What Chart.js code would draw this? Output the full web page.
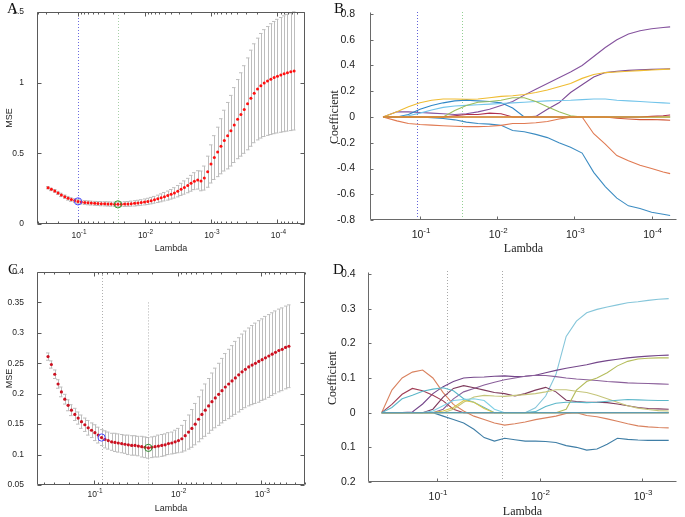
<!DOCTYPE html>
<html lang="en">
<head>
<meta charset="UTF-8">
<title>Lasso cross-validation and coefficient paths</title>
<script src="https://cdn.jsdelivr.net/npm/chart.js@4.4.1/dist/chart.umd.min.js"></script>
<style>
  body { margin: 0; background: #fff; }
  #fig { position: relative; width: 685px; height: 517px; overflow: hidden; background: #fff; }
  #fig canvas { position: absolute; }
  .tag { position: absolute; font-family: "Liberation Serif", "Times New Roman", serif; font-size: 15px; line-height: 1; color: #111; }
</style>
</head>
<body>
<div id="fig">
  <canvas id="chartA" width="340" height="260" style="left:0;top:0"></canvas>
  <canvas id="chartB" width="365" height="260" style="left:320px;top:0"></canvas>
  <canvas id="chartC" width="340" height="257" style="left:0;top:260px"></canvas>
  <canvas id="chartD" width="365" height="257" style="left:320px;top:260px"></canvas>
  <div class="tag" style="left:7px;top:1px">A</div>
  <div class="tag" style="left:334px;top:1px">B</div>
  <div class="tag" style="left:8px;top:262px">C</div>
  <div class="tag" style="left:333px;top:262px">D</div>
</div>

<script>
// ---------- panel A : CV mean squared error, first model ----------
const logLambdaA = [
  -0.55, -0.60, -0.65, -0.70, -0.75, -0.80, -0.85, -0.90, -0.95, -1.00,
  -1.05, -1.10, -1.15, -1.20, -1.25, -1.30, -1.35, -1.40, -1.45, -1.50,
  -1.55, -1.60, -1.65, -1.70, -1.75, -1.80, -1.85, -1.90, -1.95, -2.00,
  -2.05, -2.10, -2.15, -2.20, -2.25, -2.30, -2.35, -2.40, -2.45, -2.50,
  -2.55, -2.60, -2.65, -2.70, -2.75, -2.80, -2.85, -2.90, -2.95, -3.00,
  -3.05, -3.10, -3.15, -3.20, -3.25, -3.30, -3.35, -3.40, -3.45, -3.50,
  -3.55, -3.60, -3.65, -3.70, -3.75, -3.80, -3.85, -3.90, -3.95, -4.00,
  -4.05, -4.10, -4.15, -4.20, -4.25
];
const mseA = [
  0.257, 0.245, 0.234, 0.220, 0.206, 0.193, 0.182, 0.173, 0.166, 0.160,
  0.155, 0.152, 0.150, 0.148, 0.146, 0.145, 0.144, 0.143, 0.142, 0.141,
  0.140, 0.139, 0.140, 0.141, 0.142, 0.144, 0.146, 0.149, 0.152, 0.156,
  0.160, 0.165, 0.171, 0.178, 0.185, 0.193, 0.201, 0.210, 0.220, 0.232,
  0.245, 0.258, 0.272, 0.288, 0.303, 0.312, 0.305, 0.325, 0.370, 0.425,
  0.470, 0.510, 0.550, 0.590, 0.625, 0.660, 0.700, 0.742, 0.775, 0.810,
  0.850, 0.890, 0.925, 0.955, 0.978, 0.997, 1.012, 1.025, 1.036, 1.046,
  1.055, 1.063, 1.070, 1.077, 1.083
];
const seA = [
  0.008, 0.009, 0.010, 0.011, 0.012, 0.012, 0.013, 0.013, 0.013, 0.014,
  0.014, 0.014, 0.014, 0.014, 0.014, 0.014, 0.015, 0.015, 0.015, 0.015,
  0.015, 0.016, 0.016, 0.017, 0.017, 0.018, 0.019, 0.019, 0.020, 0.021,
  0.022, 0.023, 0.024, 0.026, 0.028, 0.030, 0.032, 0.034, 0.037, 0.040,
  0.043, 0.047, 0.051, 0.056, 0.060, 0.065, 0.070, 0.085, 0.110, 0.135,
  0.155, 0.175, 0.195, 0.215, 0.235, 0.250, 0.265, 0.280, 0.295, 0.310,
  0.325, 0.340, 0.350, 0.360, 0.370, 0.378, 0.385, 0.392, 0.397, 0.402,
  0.406, 0.410, 0.413, 0.416, 0.418
];
const pickA = { oneSE: 9, min: 21 };
const yTicksA = [0, 0.5, 1, 1.5];
const yLabelsA = ['0', '0.5', '1', '1.5'];
const xTicksA = [1e-1, 1e-2, 1e-3, 1e-4];
const xExpA = ['-1', '-2', '-3', '-4'];

// ---------- panel B : coefficient paths, first model ----------
const logLambdaB = [-0.52, -0.70, -0.85, -1.00, -1.15, -1.30, -1.45, -1.60, -1.75, -1.90, -2.05, -2.20, -2.35,
                    -2.50, -2.65, -2.80, -2.95, -3.10, -3.25, -3.40, -3.55, -3.70, -3.85, -4.00, -4.15, -4.24];
const coefB_zero      = [0, 0, 0, 0, 0, 0, 0, 0, 0, 0, 0, 0, 0, 0, 0, 0, 0, 0, 0, 0, 0, 0, 0, 0, 0, 0];
const coefB_purpleHi  = [0, 0.04, 0.04, 0.035, 0.03, 0.025, 0.02, 0.025, 0.04, 0.06, 0.09, 0.12, 0.17, 0.215, 0.26, 0.305, 0.35, 0.40, 0.47, 0.54, 0.60, 0.645, 0.67, 0.685, 0.695, 0.70];
const coefB_purpleLo  = [0, 0, 0, 0, 0, 0, 0, 0, 0, 0, 0, 0, 0, 0.005, 0.06, 0.11, 0.19, 0.25, 0.31, 0.345, 0.355, 0.362, 0.366, 0.37, 0.373, 0.375];
const coefB_yellow    = [0, 0.04, 0.08, 0.11, 0.13, 0.14, 0.14, 0.137, 0.14, 0.15, 0.16, 0.165, 0.175, 0.19, 0.21, 0.235, 0.26, 0.30, 0.33, 0.345, 0.35, 0.355, 0.36, 0.365, 0.37, 0.372];
const coefB_green     = [0, 0, 0, 0, 0, 0, 0.05, 0.09, 0.115, 0.12, 0.13, 0.15, 0.15, 0.12, 0.08, 0.04, 0.01, 0, 0, 0, 0, 0, 0, 0, 0, 0];
const coefB_lightBlue = [0, 0, 0.01, 0.03, 0.055, 0.075, 0.085, 0.09, 0.095, 0.10, 0.105, 0.11, 0.115, 0.12, 0.125, 0.128, 0.13, 0.135, 0.14, 0.14, 0.13, 0.125, 0.12, 0.115, 0.11, 0.107];
const coefB_blueUp    = [0, 0, 0.02, 0.06, 0.09, 0.11, 0.125, 0.13, 0.125, 0.12, 0.11, 0.07, 0, 0, 0, 0, 0, 0, 0, 0, 0, 0, 0, 0, 0, 0];
const coefB_blueDown  = [0, 0, 0, 0, -0.005, -0.012, -0.022, -0.04, -0.05, -0.055, -0.065, -0.105, -0.115, -0.135, -0.16, -0.20, -0.235, -0.28, -0.43, -0.54, -0.63, -0.69, -0.71, -0.74, -0.755, -0.765];
const coefB_orange    = [0, -0.03, -0.05, -0.058, -0.063, -0.068, -0.072, -0.075, -0.075, -0.072, -0.065, -0.05, -0.05, -0.045, -0.035, -0.015, -0.002, 0, -0.13, -0.21, -0.30, -0.34, -0.375, -0.40, -0.427, -0.44];
const coefB_darkRed   = [0, 0, 0, 0, 0, 0, 0.01, 0.02, 0.02, 0.03, 0.025, 0, 0, 0, 0, 0, 0, 0, 0, 0, 0, 0, 0, 0.005, 0.01, 0.015];
const coefB_redOrange = [0, 0, 0, 0, 0, 0, 0, 0, 0, 0, 0, 0, 0, 0, 0, 0, 0, 0, 0, 0, -0.01, -0.015, -0.02, -0.02, -0.022, -0.025];
const cutLogB = [-0.96, -1.55];
const yTicksB = [-0.8, -0.6, -0.4, -0.2, 0, 0.2, 0.4, 0.6, 0.8];
const yLabelsB = ['-0.8', '-0.6', '-0.4', '-0.2', '0', '0.2', '0.4', '0.6', '0.8'];

// ---------- panel C : CV mean squared error, second model ----------
const logLambdaC = [
  -0.45, -0.49, -0.53, -0.57, -0.61, -0.65, -0.69, -0.73, -0.77, -0.81,
  -0.85, -0.89, -0.93, -0.97, -1.01, -1.05, -1.09, -1.13, -1.17, -1.21,
  -1.25, -1.29, -1.33, -1.37, -1.41, -1.45, -1.49, -1.53, -1.57, -1.61,
  -1.65, -1.69, -1.73, -1.77, -1.81, -1.85, -1.89, -1.93, -1.97, -2.01,
  -2.05, -2.09, -2.13, -2.17, -2.21, -2.25, -2.29, -2.33, -2.37, -2.41,
  -2.45, -2.49, -2.53, -2.57, -2.61, -2.65, -2.69, -2.73, -2.77, -2.81,
  -2.85, -2.89, -2.93, -2.97, -3.01, -3.05, -3.09, -3.13, -3.17, -3.21,
  -3.25, -3.29, -3.33
];
const mseC = [
  0.261, 0.248, 0.232, 0.216, 0.203, 0.191, 0.181, 0.173, 0.166, 0.160,
  0.154, 0.149, 0.144, 0.140, 0.136, 0.132, 0.128, 0.125, 0.123, 0.121,
  0.120, 0.119, 0.118, 0.117, 0.116, 0.115, 0.115, 0.114, 0.113, 0.112,
  0.111, 0.112, 0.113, 0.114, 0.115, 0.116, 0.118, 0.119, 0.121, 0.123,
  0.126, 0.131, 0.137, 0.143, 0.150, 0.158, 0.166, 0.173, 0.180, 0.187,
  0.193, 0.199, 0.205, 0.211, 0.216, 0.221, 0.226, 0.231, 0.236, 0.240,
  0.244, 0.247, 0.250, 0.253, 0.256, 0.259, 0.262, 0.265, 0.268, 0.271,
  0.273, 0.276, 0.278
];
const seC = [
  0.006, 0.006, 0.007, 0.007, 0.008, 0.008, 0.009, 0.009, 0.010, 0.010,
  0.011, 0.011, 0.012, 0.012, 0.013, 0.013, 0.013, 0.014, 0.014, 0.014,
  0.015, 0.015, 0.015, 0.015, 0.016, 0.016, 0.016, 0.016, 0.017, 0.017,
  0.017, 0.017, 0.017, 0.018, 0.018, 0.018, 0.018, 0.018, 0.019, 0.020,
  0.022, 0.025, 0.028, 0.031, 0.034, 0.037, 0.040, 0.043, 0.045, 0.047,
  0.049, 0.051, 0.053, 0.055, 0.057, 0.058, 0.060, 0.061, 0.062, 0.063,
  0.064, 0.065, 0.066, 0.067, 0.067, 0.068, 0.068, 0.068, 0.068, 0.068,
  0.068, 0.068, 0.068
];
const pickC = { oneSE: 16, min: 30 };
const yTicksC = [0.05, 0.1, 0.15, 0.2, 0.25, 0.3, 0.35, 0.4];
const yLabelsC = ['0.05', '0.1', '0.15', '0.2', '0.25', '0.3', '0.35', '0.4'];
const xTicksC = [1e-1, 1e-2, 1e-3];
const xExpC = ['-1', '-2', '-3'];

// ---------- panel D : coefficient paths, second model ----------
const logLambdaD = [-0.46, -0.56, -0.66, -0.76, -0.86, -0.96, -1.06, -1.16, -1.26, -1.36, -1.46, -1.56, -1.66, -1.76, -1.86,
                    -1.96, -2.06, -2.16, -2.26, -2.36, -2.46, -2.56, -2.66, -2.76, -2.86, -2.96, -3.06, -3.16, -3.26];
const coefD_zero     = [0, 0, 0, 0, 0, 0, 0, 0, 0, 0, 0, 0, 0, 0, 0, 0, 0, 0, 0, 0, 0, 0, 0, 0, 0, 0, 0, 0, 0];
const coefD_cyan     = [0, 0, 0, 0, 0, 0, 0, 0, 0, 0, 0, 0, 0, 0, 0, 0.014, 0.048, 0.11, 0.22, 0.264, 0.288, 0.298, 0.305, 0.311, 0.317, 0.32, 0.324, 0.327, 0.329];
const coefD_purpleA  = [0, 0, 0, 0.002, 0.025, 0.055, 0.075, 0.09, 0.10, 0.102, 0.103, 0.105, 0.106, 0.104, 0.105, 0.108, 0.115, 0.122, 0.128, 0.133, 0.138, 0.145, 0.15, 0.154, 0.158, 0.161, 0.163, 0.165, 0.166];
const coefD_purpleB  = [0, 0, 0, 0, 0, 0, 0.01, 0.04, 0.06, 0.07, 0.08, 0.088, 0.095, 0.10, 0.105, 0.108, 0.107, 0.104, 0.10, 0.097, 0.095, 0.093, 0.09, 0.088, 0.086, 0.085, 0.084, 0.083, 0.082];
const coefD_orange   = [0, 0.065, 0.10, 0.117, 0.123, 0.10, 0.058, 0.024, 0.005, -0.01, -0.02, -0.03, -0.036, -0.032, -0.027, -0.02, -0.015, -0.01, -0.002, 0, -0.008, -0.012, -0.018, -0.025, -0.032, -0.038, -0.041, -0.043, -0.044];
const coefD_darkRed  = [0, 0.024, 0.053, 0.07, 0.063, 0.05, 0.034, 0.01, 0, 0, 0, 0, 0, 0, 0, 0, 0, 0, 0, 0, 0, 0, 0, 0, 0, 0, 0, 0, 0];
const coefD_maroon   = [0, 0, 0, 0, 0, 0.01, 0.045, 0.07, 0.078, 0.072, 0.065, 0.058, 0.055, 0.048, 0.055, 0.065, 0.073, 0.06, 0.036, 0.032, 0.03, 0.03, 0.029, 0.025, 0.02, 0.015, 0.012, 0.011, 0.01];
const coefD_teal     = [0, 0.015, 0.04, 0.05, 0.062, 0.068, 0.072, 0.063, 0.04, 0.03, 0.015, 0, 0, 0, 0, 0.003, 0.018, 0.027, 0.03, 0.03, 0.029, 0.03, 0.033, 0.036, 0.038, 0.037, 0.036, 0.035, 0.035];
const coefD_skyBlue  = [0, 0, 0, 0, 0, 0.005, 0.02, 0.035, 0.038, 0.04, 0.035, 0.01, 0, 0, 0, 0, 0, 0, 0, 0, 0, 0, 0, 0, 0, 0, 0, 0, 0];
const coefD_blue     = [0, 0, 0, 0, 0, 0, -0.01, -0.02, -0.03, -0.048, -0.072, -0.082, -0.074, -0.078, -0.082, -0.082, -0.083, -0.086, -0.095, -0.10, -0.108, -0.105, -0.091, -0.074, -0.077, -0.079, -0.08, -0.08, -0.08];
const coefD_olive    = [0, 0, 0, 0, 0, 0, 0, 0, 0, 0, 0, 0, 0, 0, 0, 0, 0, 0, 0.01, 0.065, 0.09, 0.10, 0.115, 0.135, 0.148, 0.155, 0.157, 0.158, 0.158];
const coefD_yellow   = [0, 0, 0, 0, 0, 0, 0, 0.01, 0.03, 0.045, 0.05, 0.048, 0.047, 0.05, 0.052, 0.055, 0.06, 0.066, 0.066, 0.062, 0.058, 0.05, 0.04, 0.03, 0.02, 0.013, 0.009, 0.006, 0.005];
const coefD_gold     = [0, 0, 0, 0, 0, 0, 0.005, 0.015, 0.035, 0.03, 0.012, 0, 0, 0, 0, 0, 0, 0, 0, 0, 0, 0, 0, 0, 0, 0, 0, 0, 0];
const cutLogD = [-1.10, -1.63];
const yTicksD = [-0.2, -0.1, 0, 0.1, 0.2, 0.3, 0.4];
const yLabelsD = ['0.2', '0.1', '0', '0.1', '0.2', '0.3', '0.4'];
const xTicksD = [1e-1, 1e-2, 1e-3];
const xExpD = ['-1', '-2', '-3'];

const SANS = '"Liberation Sans", Arial, sans-serif';
const SERIF = '"Liberation Serif", "Times New Roman", serif';
Chart.defaults.font.family = SANS;

const toLambda = logs => logs.map(l => Math.pow(10, l));
const lambdaA = toLambda(logLambdaA), lambdaB = toLambda(logLambdaB);
const lambdaC = toLambda(logLambdaC), lambdaD = toLambda(logLambdaD);

// error bars (mean +/- se) under the red points
const errorBars = {
  id: 'errorBars',
  beforeDatasetsDraw(chart) {
    const { ctx, scales: { x, y } } = chart;
    ctx.save();
    ctx.strokeStyle = '#bdbdbd';
    ctx.lineWidth = 1;
    chart.data.datasets.forEach(ds => {
      if (!ds.errors) return;
      ds.data.forEach((p, i) => {
        const px = Math.round(x.getPixelForValue(p.x)) + 0.5;
        const top = y.getPixelForValue(p.y + ds.errors[i]);
        const bot = y.getPixelForValue(p.y - ds.errors[i]);
        ctx.beginPath();
        ctx.moveTo(px, top); ctx.lineTo(px, bot);
        ctx.moveTo(px - 2.5, top); ctx.lineTo(px + 1, top);
        ctx.moveTo(px - 2.5, bot); ctx.lineTo(px + 1, bot);
        ctx.stroke();
      });
    });
    ctx.restore();
  }
};

// dotted vertical lines at the selected lambdas
const cutLines = {
  id: 'cutLines',
  beforeDatasetsDraw(chart, args, opts) {
    const { ctx, chartArea: a, scales: { x, y } } = chart;
    ctx.save();
    ctx.lineWidth = 1;
    ctx.setLineDash([1, 2]);
    (opts.lines || []).forEach(l => {
      const px = Math.round(x.getPixelForValue(l.at)) + 0.5;
      const top = l.from !== undefined ? y.getPixelForValue(l.from) : a.top - (l.lift || 0);
      ctx.strokeStyle = l.color;
      ctx.beginPath();
      ctx.moveTo(px, top);
      ctx.lineTo(px, a.bottom);
      ctx.stroke();
    });
    ctx.restore();
  }
};

// matlab style frame: full box with inward ticks, or just the two axes
const frame = {
  id: 'frame',
  afterDatasetsDraw(chart, args, opts) {
    const { ctx, chartArea: a, scales: { x, y } } = chart;
    ctx.save();
    ctx.strokeStyle = opts.color;
    ctx.lineWidth = 1;
    ctx.beginPath();
    const L = Math.round(a.left) + 0.5, R = Math.round(a.right) - 0.5;
    const T = Math.round(a.top) + 0.5, B = Math.round(a.bottom) - 0.5;
    if (opts.box) {
      ctx.rect(L, T, R - L, B - T);
      const lo = Math.floor(Math.log10(x.min)), hi = Math.ceil(Math.log10(x.max));
      for (let e = lo; e <= hi; e++) {
        for (let k = 1; k < 10; k++) {
          const v = k * Math.pow(10, e);
          if (v < x.min || v > x.max) continue;
          const px = Math.round(x.getPixelForValue(v)) + 0.5;
          const len = k === 1 ? 4 : 2;
          ctx.moveTo(px, B); ctx.lineTo(px, B - len);
          ctx.moveTo(px, T); ctx.lineTo(px, T + len);
        }
      }
      y.ticks.forEach(t => {
        const py = Math.round(y.getPixelForValue(t.value)) + 0.5;
        ctx.moveTo(L, py); ctx.lineTo(L + 4, py);
        ctx.moveTo(R, py); ctx.lineTo(R - 4, py);
      });
    } else {
      ctx.moveTo(L, T - 2); ctx.lineTo(L, B); ctx.lineTo(R, B);
      y.ticks.forEach(t => {
        const py = Math.round(y.getPixelForValue(t.value)) + 0.5;
        ctx.moveTo(L, py); ctx.lineTo(L + 3, py);
      });
      x.ticks.forEach(t => {
        const px = Math.round(x.getPixelForValue(t.value)) + 0.5;
        ctx.moveTo(px, B); ctx.lineTo(px, B - 3);
      });
    }
    ctx.stroke();
    ctx.restore();
  }
};

// "10" with a raised exponent under each decade tick
const powerTicks = {
  id: 'powerTicks',
  afterDraw(chart, args, o) {
    const { ctx, chartArea: a, scales: { x } } = chart;
    ctx.save();
    ctx.fillStyle = o.color;
    ctx.textAlign = 'left';
    ctx.textBaseline = 'alphabetic';
    const baseFont = o.size + 'px ' + SANS, supFont = o.supSize + 'px ' + SANS;
    x.ticks.forEach((t, i) => {
      const exp = o.exps[i];
      ctx.font = baseFont;
      const w1 = ctx.measureText('10').width;
      ctx.font = supFont;
      const w2 = ctx.measureText(exp).width;
      const left = x.getPixelForValue(t.value) - (w1 + w2) / 2 + 1;
      const base = a.bottom + o.drop;
      ctx.font = baseFont;
      ctx.fillText('10', left, base);
      ctx.font = supFont;
      ctx.fillText(exp, left + w1, base - o.rise);
    });
    ctx.restore();
  }
};

function lambdaAxis(o) {
  return {
    type: 'logarithmic', reverse: true,
    min: Math.pow(10, o.range[1]), max: Math.pow(10, o.range[0]),
    afterBuildTicks: s => { s.ticks = o.ticks.map(v => ({ value: v })); },
    afterFit: s => { s.height = o.height; },
    grid: { display: false }, border: { display: false },
    ticks: { display: false },
    title: { display: true, text: 'Lambda', font: o.titleFont, color: o.color, padding: o.titlePad }
  };
}

function valueAxis(o) {
  return {
    type: 'linear', min: o.ticks[0], max: o.ticks[o.ticks.length - 1],
    afterBuildTicks: s => { s.ticks = o.ticks.map(v => ({ value: v })); },
    afterFit: s => { s.width = o.width; },
    grid: { display: false }, border: { display: false },
    ticks: { callback: (v, i) => o.labels[i], font: o.tickFont, color: o.color, padding: o.tickPad, autoSkip: false },
    title: { display: true, text: o.title, font: o.titleFont, color: o.color, padding: o.titlePad }
  };
}

function makePanel(id, cfg) {
  return new Chart(document.getElementById(id), {
    type: 'scatter',
    data: { datasets: cfg.datasets },
    options: {
      responsive: false, animation: false, events: [], devicePixelRatio: 1,
      layout: { padding: cfg.padding },
      plugins: {
        legend: { display: false }, tooltip: { enabled: false },
        frame: cfg.frame, cutLines: { lines: cfg.cuts }, powerTicks: cfg.power
      },
      scales: { x: cfg.x, y: cfg.y }
    },
    plugins: [errorBars, cutLines, frame, powerTicks]
  });
}

const pts = (xs, ys) => xs.map((v, i) => ({ x: v, y: ys[i] }));
const mark = (xs, ys, i, color) => ({
  data: [{ x: xs[i], y: ys[i] }], pointRadius: 3.6, pointBorderWidth: 1,
  pointBorderColor: color, pointBackgroundColor: 'rgba(0,0,0,0)'
});
const path = (ys, color, xs) => ({
  data: pts(xs, ys), showLine: true, borderColor: color, borderWidth: 1.1,
  pointRadius: 0, tension: 0, clip: false
});

const smallTick = { size: 8.5, family: SANS };
const smallTitle = { size: 9, family: SANS };
const bigTick = { size: 10.5, family: SANS };
const serifTitle = { size: 12, family: SERIF };

// A
makePanel('chartA', {
  padding: { top: 12, right: 35, left: 0, bottom: 0 },
  frame: { box: true, color: '#5a5a5a' },
  power: { exps: xExpA, size: 8.5, supSize: 6.5, rise: 4, drop: 13.5, color: '#262626' },
  cuts: [
    { at: lambdaA[pickA.oneSE], color: '#6b6be0' },
    { at: lambdaA[pickA.min], color: '#a7cfa7' }
  ],
  datasets: [
    mark(lambdaA, mseA, pickA.oneSE, '#4b4bff'),
    mark(lambdaA, mseA, pickA.min, '#2f9a2f'),
    { data: pts(lambdaA, mseA), errors: seA, pointRadius: 1.5, pointBorderWidth: 0,
      pointBackgroundColor: '#ff1010', pointBorderColor: '#ff1010' }
  ],
  x: lambdaAxis({ range: [-0.383, -4.414], ticks: xTicksA, height: 36,
                  titleFont: smallTitle, color: '#262626', titlePad: { top: 0, bottom: 6.5 } }),
  y: valueAxis({ ticks: yTicksA, labels: yLabelsA, width: 37, title: 'MSE',
                 tickFont: smallTick, titleFont: smallTitle, color: '#262626', tickPad: 5, titlePad: { top: 4.5, bottom: 0 } })
});

// B
makePanel('chartB', {
  padding: { top: 14, right: 8, left: 0, bottom: 0 },
  frame: { box: false, color: '#6a6a6a' },
  power: { exps: xExpA, size: 10.5, supSize: 8, rise: 5, drop: 17.5, color: '#222' },
  cuts: [
    { at: Math.pow(10, cutLogB[0]), color: '#6262d8', lift: 2 },
    { at: Math.pow(10, cutLogB[1]), color: '#93d093', lift: 2 }
  ],
  datasets: [
    path(coefB_zero, '#edb52a', lambdaB),
    path(coefB_redOrange, '#d2583a', lambdaB),
    path(coefB_darkRed, '#b0304f', lambdaB),
    path(coefB_green, '#9cbf5c', lambdaB),
    path(coefB_lightBlue, '#72c4ea', lambdaB),
    path(coefB_blueUp, '#2f86c6', lambdaB),
    path(coefB_yellow, '#efbc32', lambdaB),
    path(coefB_purpleLo, '#7d4b95', lambdaB),
    path(coefB_purpleHi, '#85539e', lambdaB),
    path(coefB_orange, '#e07a52', lambdaB),
    path(coefB_blueDown, '#3c8cc2', lambdaB)
  ],
  x: lambdaAxis({ range: [-0.352, -4.329], ticks: xTicksA, height: 40,
                  titleFont: serifTitle, color: '#222', titlePad: { top: 0, bottom: 4 } }),
  y: valueAxis({ ticks: yTicksB, labels: yLabelsB, width: 50, title: 'Coefficient',
                 tickFont: bigTick, titleFont: serifTitle, color: '#222', tickPad: 7, titlePad: { top: 8, bottom: 0 } })
});

// C
makePanel('chartC', {
  padding: { top: 12, right: 35, left: 0, bottom: 0 },
  frame: { box: true, color: '#5a5a5a' },
  power: { exps: xExpC, size: 8.5, supSize: 6.5, rise: 4, drop: 12, color: '#262626' },
  cuts: [
    { at: lambdaC[pickC.oneSE], color: '#b0b0b0' },
    { at: lambdaC[pickC.min], color: '#b0b0b0', from: 0.35 }
  ],
  datasets: [
    mark(lambdaC, mseC, pickC.oneSE, '#4b4bff'),
    mark(lambdaC, mseC, pickC.min, '#2f8a2f'),
    { data: pts(lambdaC, mseC), errors: seC, pointRadius: 1.6, pointBorderWidth: 0,
      pointBackgroundColor: '#cc1020', pointBorderColor: '#cc1020' }
  ],
  x: lambdaAxis({ range: [-0.318, -3.471], ticks: xTicksC, height: 32,
                  titleFont: smallTitle, color: '#262626', titlePad: { top: 0, bottom: 3.5 } }),
  y: valueAxis({ ticks: yTicksC, labels: yLabelsC, width: 37, title: 'MSE',
                 tickFont: smallTick, titleFont: smallTitle, color: '#262626', tickPad: 5, titlePad: { top: 4.5, bottom: 0 } })
});

// D
makePanel('chartD', {
  padding: { top: 14, right: 8, left: 0, bottom: 0 },
  frame: { box: false, color: '#6a6a6a' },
  power: { exps: xExpD, size: 10.5, supSize: 8, rise: 5, drop: 17.5, color: '#222' },
  cuts: [
    { at: Math.pow(10, cutLogD[0]), color: '#a8a8a8', lift: 3 },
    { at: Math.pow(10, cutLogD[1]), color: '#a8a8a8', lift: 3 }
  ],
  datasets: [
    path(coefD_zero, '#5e9cb0', lambdaD),
    path(coefD_gold, '#d9c64a', lambdaD),
    path(coefD_skyBlue, '#7fd0e6', lambdaD),
    path(coefD_teal, '#5cb7c9', lambdaD),
    path(coefD_yellow, '#c5c57a', lambdaD),
    path(coefD_olive, '#b5bd5c', lambdaD),
    path(coefD_maroon, '#7e3a5c', lambdaD),
    path(coefD_darkRed, '#a13d55', lambdaD),
    path(coefD_orange, '#d9825f', lambdaD),
    path(coefD_purpleB, '#8a5f9a', lambdaD),
    path(coefD_purpleA, '#74468a', lambdaD),
    path(coefD_cyan, '#86c6da', lambdaD),
    path(coefD_blue, '#3f7ea6', lambdaD)
  ],
  x: lambdaAxis({ range: [-0.327, -3.341], ticks: xTicksD, height: 35,
                  titleFont: serifTitle, color: '#222', titlePad: { top: 0, bottom: -2.5 } }),
  y: valueAxis({ ticks: yTicksD, labels: yLabelsD, width: 48, title: 'Coefficient',
                 tickFont: bigTick, titleFont: serifTitle, color: '#222', tickPad: 4.5, titlePad: { top: 6, bottom: 0 } })
});
</script>
</body>
</html>
